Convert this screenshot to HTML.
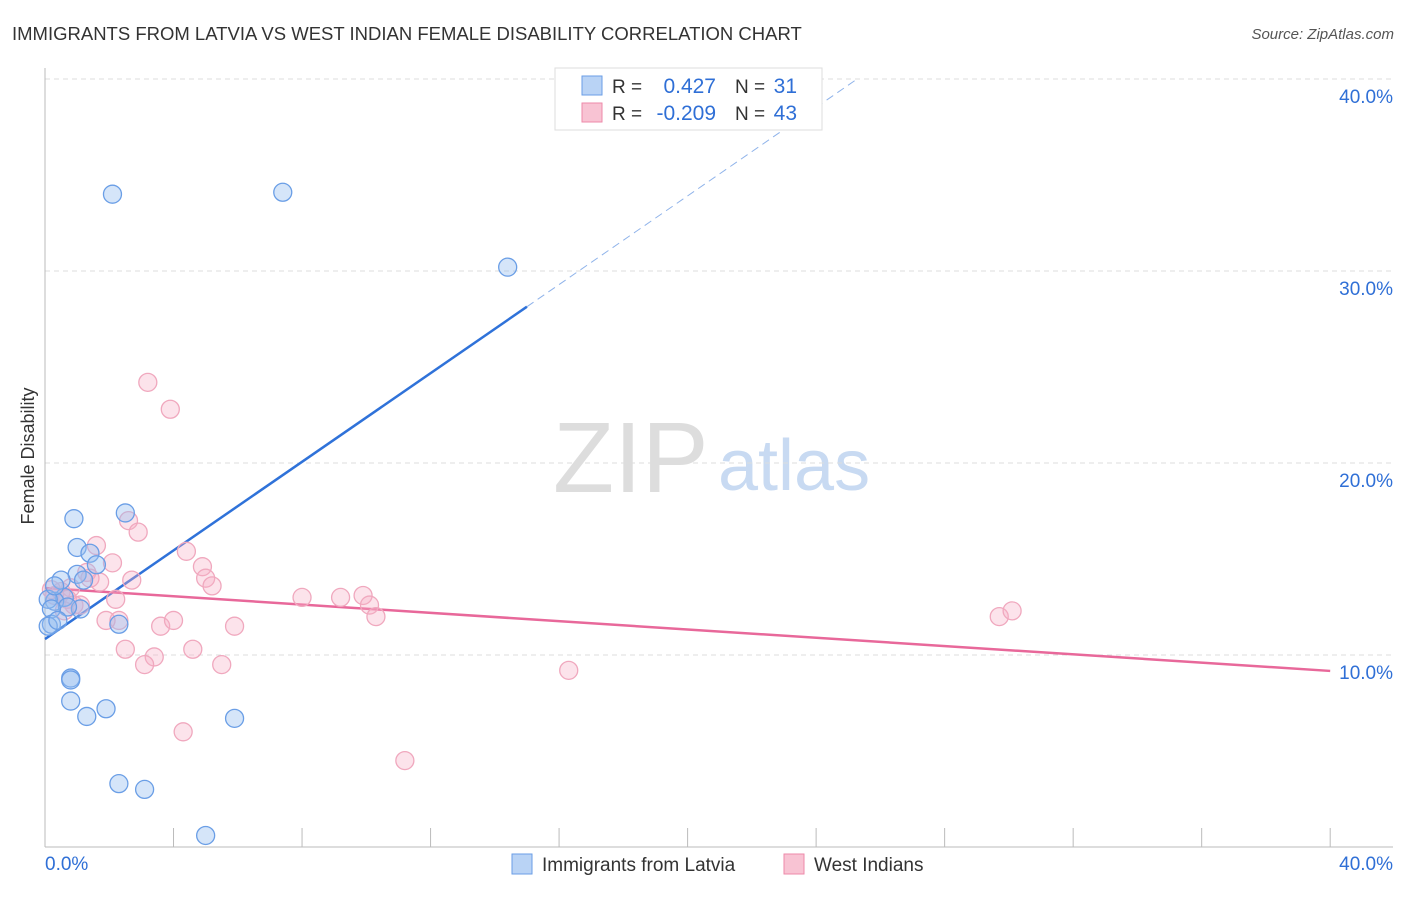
<!DOCTYPE html>
<html><head><meta charset="utf-8"><style>
body{margin:0;background:#fff;font-family:"Liberation Sans",sans-serif;}
svg text{font-family:"Liberation Sans",sans-serif;}
</style></head><body>
<svg id="chart" width="1406" height="892">
<text x="12" y="40" font-size="18.5" fill="#333">IMMIGRANTS FROM LATVIA VS WEST INDIAN FEMALE DISABILITY CORRELATION CHART</text>
<text x="1394" y="39" font-size="15" fill="#555" font-style="italic" text-anchor="end">Source: ZipAtlas.com</text>
<text x="34" y="456" font-size="18" fill="#333" text-anchor="middle" transform="rotate(-90 34 456)">Female Disability</text>
<g><text x="553" y="492" font-size="100" fill="#ddd" font-family="Liberation Serif">ZIP</text><text x="718" y="490" font-size="72" fill="#c8daf2">atlas</text></g>
<g id="grid"></g><g id="axes"></g><g id="trend"></g><g id="pts"></g>
<g>
<rect x="555" y="68" width="267" height="62" fill="#fff" stroke="#ddd"/>
<rect x="582" y="76" width="20" height="19" fill="#b9d3f5" stroke="#6a9ee6"/>
<rect x="582" y="103" width="20" height="19" fill="#f8c3d3" stroke="#ee8aaa"/>
<text x="612" y="93" font-size="19" fill="#333">R =</text><text x="716" y="93" font-size="21" fill="#2f6fd6" text-anchor="end">0.427</text>
<text x="735" y="93" font-size="19" fill="#333">N =</text><text x="797" y="93" font-size="21" fill="#2f6fd6" text-anchor="end">31</text>
<text x="612" y="120" font-size="19" fill="#333">R =</text><text x="716" y="120" font-size="21" fill="#2f6fd6" text-anchor="end">-0.209</text>
<text x="735" y="120" font-size="19" fill="#333">N =</text><text x="797" y="120" font-size="21" fill="#2f6fd6" text-anchor="end">43</text>
</g>
<g>
<rect x="512" y="854" width="20" height="20" fill="#b9d3f5" stroke="#6a9ee6"/>
<text x="542" y="871" font-size="19" fill="#333">Immigrants from Latvia</text>
<rect x="784" y="854" width="20" height="20" fill="#f8c3d3" stroke="#ee8aaa"/>
<text x="814" y="871" font-size="19" fill="#333">West Indians</text>
</g>
</svg>
<script>
const yTicks=[10,20,30,40];
const xTickLabels=["0.0%","40.0%"];
const blueX=[2.1,7.4,14.4,2.5,0.9,1.0,1.4,1.6,1.0,1.2,0.5,0.6,0.3,1.1,0.7,0.1,0.2,0.2,0.1,0.4,2.3,0.8,0.8,0.8,1.9,1.3,5.9,2.3,3.1,5.0,0.3];
const blueY=[34.0,34.1,30.2,17.4,17.1,15.6,15.3,14.7,14.2,13.9,13.9,13.0,12.8,12.4,12.5,12.9,12.4,11.6,11.5,11.8,11.6,8.8,8.7,7.6,7.2,6.8,6.7,3.3,3.0,0.6,13.6];
const pinkX=[3.2,3.9,2.6,2.9,1.6,2.1,4.4,4.9,5.0,5.2,2.7,1.7,1.3,0.8,0.5,0.3,0.7,0.9,2.2,2.3,1.9,3.6,4.0,5.9,8.0,9.2,9.9,10.1,10.3,29.7,30.1,2.5,3.4,3.1,4.6,5.5,16.3,4.3,11.2,0.2,0.6,1.1,1.4];
const pinkY=[24.2,22.8,17.0,16.4,15.7,14.8,15.4,14.6,14.0,13.6,13.9,13.8,14.3,13.5,13.3,13.1,12.9,12.6,12.9,11.8,11.8,11.5,11.8,11.5,13.0,13.0,13.1,12.6,12.0,12.0,12.3,10.3,9.9,9.5,10.3,9.5,9.2,6.0,4.5,13.4,12.3,12.6,14.0];
const blueFit=[10.83,1.154]; const pinkFit=[13.49,-0.108];
const NS="http://www.w3.org/2000/svg";
const X=v=>45+v*32.13, Y=v=>847-v*19.2;
function mk(t,a,p){const e=document.createElementNS(NS,t);for(const k in a)e.setAttribute(k,a[k]);p.appendChild(e);return e;}
const grid=document.getElementById('grid'),axes=document.getElementById('axes');
yTicks.forEach(t=>{const l=mk('line',{x1:45,x2:1393,y1:Y(t),y2:Y(t),stroke:'#ddd','stroke-dasharray':'5,4'},grid);


const tx=mk('text',{x:1393,y:Y(t)+24,'font-size':19,fill:'#2f6fd6','text-anchor':'end'},axes);tx.textContent=t.toFixed(1)+'%';

});
mk('line',{x1:45,x2:45,y1:68,y2:847,stroke:'#bbb'},axes);
mk('line',{x1:45,x2:1393,y1:847,y2:847,stroke:'#bbb'},axes);
for(let i=1;i<=10;i++){mk('line',{x1:X(i*4),x2:X(i*4),y1:828,y2:847,stroke:'#bbb'},axes);}
xTickLabels.forEach((s,i)=>{const tx=mk('text',{x:i?1393:45,y:870,'font-size':19,fill:'#2f6fd6','text-anchor':i?'end':'start'},axes);tx.textContent=s;

});
const tr=document.getElementById('trend');
const bl=mk('line',{x1:X(0),y1:Y(blueFit[0]),x2:X(15),y2:Y(blueFit[0]+15*blueFit[1]),stroke:'#2f72d9','stroke-width':2.5},tr);


const bd=mk('line',{x1:X(15),y1:Y(blueFit[0]+15*blueFit[1]),x2:X(25.2),y2:Y(blueFit[0]+25.2*blueFit[1]),stroke:'#8fb3ea','stroke-width':1,'stroke-dasharray':'8,5'},tr);


const pl=mk('line',{x1:X(0),y1:Y(pinkFit[0]),x2:X(40),y2:Y(pinkFit[0]+40*pinkFit[1]),stroke:'#e8689a','stroke-width':2.5},tr);


const pts=document.getElementById('pts');
pinkX.forEach((x,i)=>{const c=mk('circle',{cx:X(x),cy:Y(pinkY[i]),r:9,fill:'rgba(245,175,198,0.35)',stroke:'#f0a8be','stroke-width':1.3},pts);

});
blueX.forEach((x,i)=>{const c=mk('circle',{cx:X(x),cy:Y(blueY[i]),r:9,fill:'rgba(150,190,240,0.4)',stroke:'#6a9ee6','stroke-width':1.3},pts);

});
</script>
</body></html>
